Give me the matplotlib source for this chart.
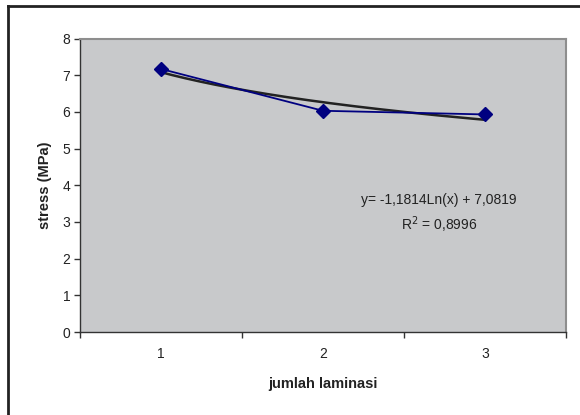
import numpy as np
import matplotlib
matplotlib.use("Agg")
import matplotlib.pyplot as plt
from matplotlib.lines import Line2D

plt.rcParams['font.family'] = ['Liberation Sans', 'DejaVu Sans']

# Measured stress per number of laminations
jumlah_laminasi = [1, 2, 3]
stress_mpa = [7.17, 6.03, 5.93]

# Logarithmic trendline y = a*ln(x) + b
trend_a = -1.1814
trend_b = 7.0819
r_squared = 0.8996

y_ticks = [0, 1, 2, 3, 4, 5, 6, 7, 8]

fig = plt.figure(figsize=(5.8, 4.15), dpi=100)
ax = fig.add_axes([80 / 580, 1 - 332 / 415, 486 / 580, (332 - 38.5) / 415])
ax.set_facecolor('#c8c9cb')

# trendline
xt = np.linspace(jumlah_laminasi[0], jumlah_laminasi[-1], 200)
ax.plot(xt, trend_a * np.log(xt) + trend_b, color='#222222', lw=1.8, zorder=2)

# data series
ax.plot(jumlah_laminasi, stress_mpa, color='#000080', lw=1.3, marker='D',
        markersize=6.8, markerfacecolor='#000080', markeredgecolor='#000080',
        zorder=3)

ax.set_xlim(0.5, 3.5)
ax.set_ylim(0, 8)
ax.set_yticks(y_ticks)
ax.set_xticks([0.5, 1.5, 2.5, 3.5])
ax.set_xticklabels([])
ax.set_xticks(jumlah_laminasi, minor=True)
ax.set_xticklabels([str(v) for v in jumlah_laminasi], minor=True)
ax.tick_params(axis='x', which='minor', length=0, pad=11, labelsize=10,
               labelcolor='#222222')
ax.tick_params(axis='x', which='major', length=4, width=1, color='#333333',
               direction='out')
ax.tick_params(axis='y', length=4, width=1, color='#333333', direction='out',
               labelsize=10, labelcolor='#222222', pad=3)

for side in ('top', 'right'):
    ax.spines[side].set_color('#8e8e8e')
    ax.spines[side].set_linewidth(1.5)
for side in ('left', 'bottom'):
    ax.spines[side].set_color('#333333')
    ax.spines[side].set_linewidth(1.0)

ax.set_ylabel('stress (MPa)', fontsize=10.5, fontweight='bold',
              color='#222222')
ax.yaxis.set_label_coords(-(80 - 52) / 486, 0.5)
ax.set_xlabel('jumlah laminasi', fontsize=10.5, fontweight='bold',
              color='#222222')
ax.xaxis.set_label_coords(0.5, -(383 - 332) / 293.5 + 0.02)

eq_text = (f"y= {trend_a:.4f}Ln(x) + {trend_b:.4f}".replace('.', ',')
           + "\n" + f"R$^2$ = {r_squared:.4f}".replace('.', ','))
fig.text(439 / 580, 1 - 214 / 415, eq_text, ha='center', va='center',
         fontsize=10, color='#222222', linespacing=1.45, multialignment='center')

# outer chart frame
fig.add_artist(Line2D([7.5 / 580, 7.5 / 580], [1 - 6 / 415, -0.05],
                      transform=fig.transFigure, color='#222222', lw=2))
fig.add_artist(Line2D([7.5 / 580, 1.05], [1 - 6 / 415, 1 - 6 / 415],
                      transform=fig.transFigure, color='#222222', lw=2))

fig.savefig('out.png', dpi=100)
